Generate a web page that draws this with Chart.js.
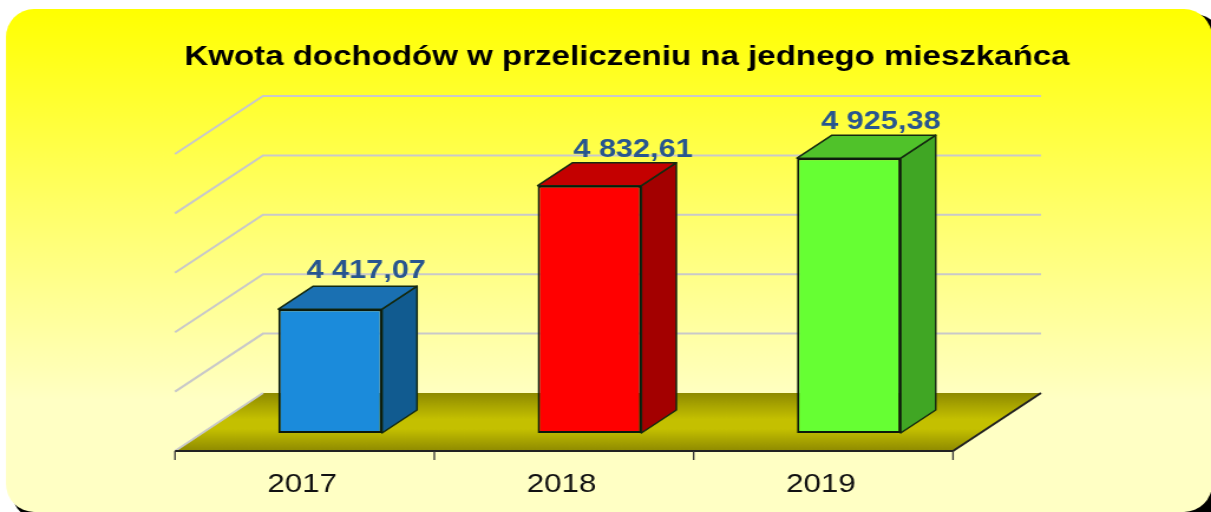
<!DOCTYPE html>
<html>
<head>
<meta charset="utf-8">
<style>html,body{margin:0;padding:0;background:#fff;overflow:hidden;width:1211px;height:512px}canvas{display:block;transform-origin:0 0;transform:scaleX(1.18031)}</style>
<script src="https://cdn.jsdelivr.net/npm/chart.js@4"></script>
</head>
<body>
<canvas id="c" width="1026" height="512" style="width:1026px;height:512px"></canvas>
<script>
const titleText = 'Kwota dochodów w przeliczeniu na jednego mieszkańca';
const categories = ['2017', '2018', '2019'];
const values = [4417.07, 4832.61, 4925.38];
const valueLabels = ['4 417,07', '4 832,61', '4 925,38'];
const labelNudgeX = [36, 43.5, 32];
const labelNudgeY = [-38.5, -35.5, -36.5];
const frontColors = ['#1b8bdb', '#ff0000', '#66ff33'];
const sideColors = ['#115b90', '#a30000', '#40a624'];
const topColors = ['#1a70b2', '#c40000', '#50c22a'];
const axisMin = 4000, axisMax = 5000, axisStep = 200;

const SX = 1211 / 1026;                 // the canvas is widened by this factor
const X = v => v / SX;
const DEPTH = {bx: X(35), by: -23};
const WALL = {shift: X(25.5), dx: X(88), front: 18, back: -40};

function rr(ctx, x0, y0, x1, y1) {
  ctx.beginPath();
  ctx.roundRect(X(x0), y0, X(x1 - x0), y1 - y0, [{x: X(28), y: 28}]);
}
function poly(ctx, pts, fill, stroke, lw) {
  ctx.beginPath();
  pts.forEach((p, i) => i ? ctx.lineTo(p[0], p[1]) : ctx.moveTo(p[0], p[1]));
  ctx.closePath();
  ctx.fillStyle = fill;
  ctx.fill();
  if (stroke) { ctx.strokeStyle = stroke; ctx.lineWidth = lw; ctx.lineJoin = 'round'; ctx.stroke(); }
}

const scene = {
  id: 'scene',
  beforeDraw(chart) {
    const ctx = chart.ctx;
    ctx.save();
    rr(ctx, 12, 14, 1222, 520);
    ctx.fillStyle = '#000';
    ctx.fill();
    const g = ctx.createLinearGradient(0, 9, 0, 400);
    g.addColorStop(0, '#ffff00');
    g.addColorStop(0.5, '#ffff66');
    g.addColorStop(1, '#ffffc4');
    rr(ctx, 6, 9, 1212, 512);
    ctx.fillStyle = g;
    ctx.fill();
    ctx.restore();
  },
  beforeDatasetsDraw(chart) {
    const ctx = chart.ctx, x = chart.scales.x, y = chart.scales.y;
    const left = x.left - WALL.shift, right = x.right - WALL.shift;
    const y0 = y.getPixelForValue(axisMin);
    ctx.save();
    ctx.strokeStyle = '#c9c9c9';
    ctx.lineWidth = 2;
    y.ticks.forEach(t => {
      if (t.value === axisMin) return;
      const py = y.getPixelForValue(t.value);
      ctx.beginPath();
      ctx.moveTo(left, py + WALL.front);
      ctx.lineTo(left + WALL.dx, py + WALL.back);
      ctx.lineTo(right + WALL.dx, py + WALL.back);
      ctx.stroke();
    });
    const fTop = y0 + WALL.back, fBot = y0 + WALL.front;
    const g = ctx.createLinearGradient(0, fTop, 0, fBot);
    g.addColorStop(0, '#8e8a00');
    g.addColorStop(0.45, '#c4c000');
    g.addColorStop(0.62, '#c4c000');
    g.addColorStop(1, '#8e8a00');
    poly(ctx, [[left, fBot], [left + WALL.dx, fTop], [right + WALL.dx, fTop], [right, fBot]], g);
    ctx.strokeStyle = '#c9c9c9';
    ctx.lineWidth = 2;
    ctx.beginPath(); ctx.moveTo(left, fBot); ctx.lineTo(left + WALL.dx, fTop); ctx.stroke();
    ctx.strokeStyle = '#222';
    ctx.beginPath(); ctx.moveTo(right, fBot); ctx.lineTo(right + WALL.dx, fTop); ctx.stroke();
    ctx.beginPath(); ctx.moveTo(left, fBot); ctx.lineTo(right, fBot); ctx.stroke();
    ctx.strokeStyle = '#333';
    ctx.lineWidth = 1.3;
    for (let i = 0; i <= categories.length; i++) {
      const px = left + (right - left) * i / categories.length;
      ctx.beginPath(); ctx.moveTo(px, fBot); ctx.lineTo(px, fBot + 9); ctx.stroke();
    }
    chart.getDatasetMeta(0).data.forEach((b, i) => {
      const l = b.x - b.width / 2, r = b.x + b.width / 2, t = b.y, base = b.base;
      poly(ctx, [[r, t], [r + DEPTH.bx, t + DEPTH.by], [r + DEPTH.bx, base + DEPTH.by], [r, base]], sideColors[i], '#142a10', 1.5);
      poly(ctx, [[l, t], [l + DEPTH.bx, t + DEPTH.by], [r + DEPTH.bx, t + DEPTH.by], [r, t]], topColors[i], '#142a10', 1.5);
    });
    ctx.restore();
  },
  afterDatasetsDraw(chart) {
    const ctx = chart.ctx;
    ctx.save();
    ctx.font = 'bold 26px "Liberation Sans"';
    ctx.fillStyle = '#28568f';
    ctx.textAlign = 'center';
    ctx.textBaseline = 'middle';
    chart.getDatasetMeta(0).data.forEach((b, i) => {
      ctx.fillText(valueLabels[i], b.x + X(labelNudgeX[i]), b.y + labelNudgeY[i]);
    });
    ctx.restore();
  }
};

new Chart(document.getElementById('c'), {
  type: 'bar',
  data: {
    labels: categories,
    datasets: [{
      data: values,
      base: axisMin,
      backgroundColor: frontColors,
      borderColor: '#0c1a0c',
      borderWidth: 2,
      borderSkipped: false,
      barPercentage: 0.4,
      categoryPercentage: 1
    }]
  },
  plugins: [scene],
  options: {
    responsive: false,
    animation: false,
    devicePixelRatio: 1,
    layout: {padding: {left: 36.4, right: 0, top: 0, bottom: 0}},
    plugins: {
      legend: {display: false},
      tooltip: {enabled: false},
      title: {
        display: true,
        text: titleText,
        color: '#000',
        font: {family: '"Liberation Sans"', size: 28, weight: 'bold', lineHeight: 1.2},
        padding: {top: 40, bottom: 62.4}
      }
    },
    scales: {
      x: {
        offset: true,
        grid: {display: false},
        border: {display: false},
        ticks: {
          color: '#111',
          font: {family: '"Liberation Sans"', size: 26.5},
          labelOffset: X(-28),
          padding: 28,
          maxRotation: 0
        },
        afterFit(s) { s.height = 79; }
      },
      y: {
        min: axisMin, max: axisMax,
        ticks: {stepSize: axisStep, display: false},
        grid: {display: false},
        border: {display: false},
        afterFit(s) { s.width = X(200.5) - 36.4; }
      },
      yRight: {
        position: 'right',
        min: axisMin, max: axisMax,
        ticks: {display: false},
        grid: {display: false},
        border: {display: false},
        afterFit(s) { s.width = 1026 - X(978.5); }
      }
    }
  }
});
</script>
</body>
</html>
